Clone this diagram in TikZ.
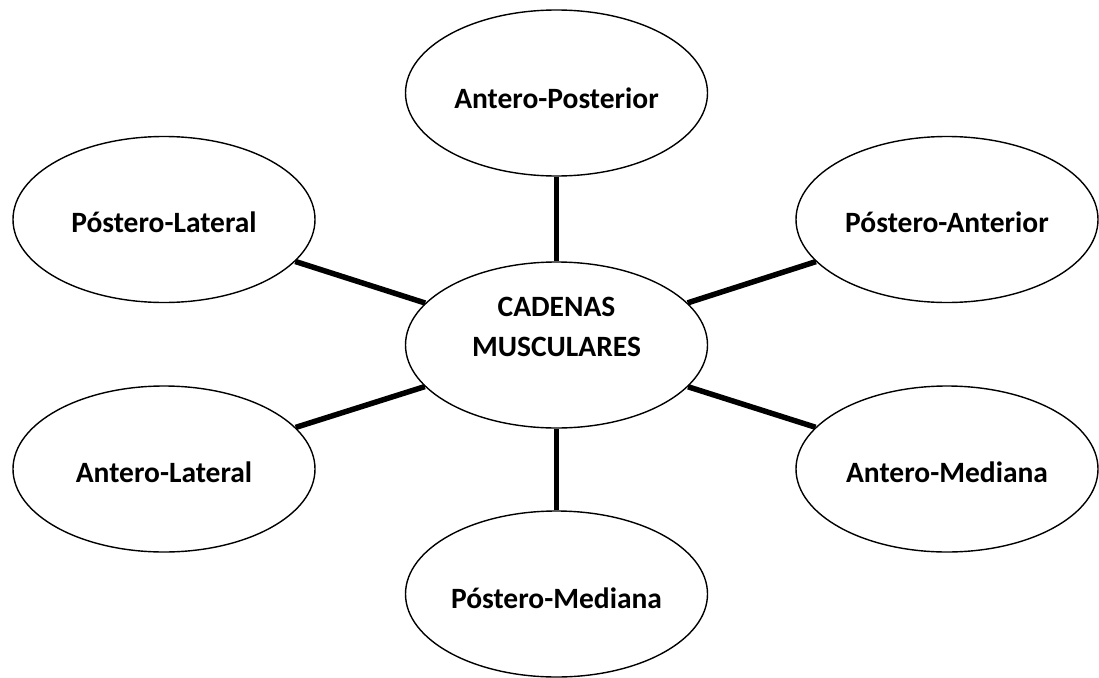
\documentclass[tikz,border=0pt]{standalone}
\usepackage{fontspec}
\setmainfont{Carlito}
\usetikzlibrary{shapes.geometric}
\tikzset{
  bubble/.style={ellipse, draw=black, line width=1.4pt, fill=white, minimum width=302pt, minimum height=166pt, inner sep=0pt},
  lbl/.style={inner sep=0pt, align=center, font=\fontsize{29.5}{40}\selectfont\bfseries},
  link/.style={line width=5.5pt, black}
}
\begin{document}
\begin{tikzpicture}[x=1pt,y=-1pt]
\useasboundingbox (0,0) rectangle (1099,677);
\node[bubble] (c) at (556.5,345) {};
\node[bubble] (ap) at (556.5,93) {};
\node[bubble] (pl) at (164,219.5) {};
\node[bubble] (pa) at (947,219.5) {};
\node[bubble] (al) at (164,469) {};
\node[bubble] (am) at (947,469) {};
\node[bubble] (pm) at (556.5,594) {};
\node[lbl] (ct) at ([yshift=18pt]c.center) {CADENAS\\MUSCULARES};
\node[lbl] (apt) at ([yshift=-5pt]ap.center) {Antero-Posterior};
\node[lbl] (plt) at ([yshift=-2.5pt]pl.center) {Póstero-Lateral};
\node[lbl] (pat) at ([yshift=-2.5pt]pa.center) {Póstero-Anterior};
\node[lbl] (alt) at ([yshift=-3pt]al.center) {Antero-Lateral};
\node[lbl] (amt) at ([yshift=-3pt]am.center) {Antero-Mediana};
\node[lbl] (pmt) at ([yshift=-4pt]pm.center) {Póstero-Mediana};
\draw[link] (ap) -- (c);
\draw[link] (pl) -- (c);
\draw[link] (pa) -- (c);
\draw[link] (al) -- (c);
\draw[link] (am) -- (c);
\draw[link] (pm) -- (c);
\end{tikzpicture}
\end{document}
